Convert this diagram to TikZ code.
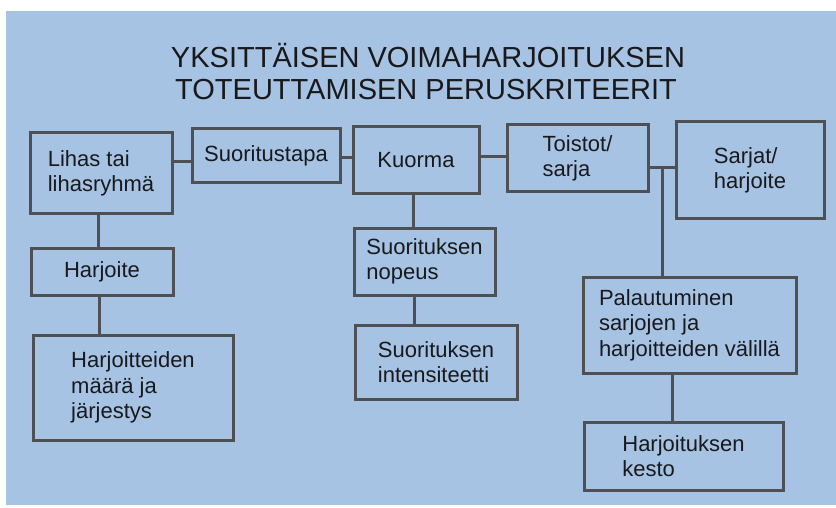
\documentclass[tikz,border=0pt]{standalone}
\usepackage{fontspec}
\setmainfont{Liberation Sans}
\definecolor{bgblue}{RGB}{166,195,228}
\definecolor{linegray}{RGB}{78,80,84}
\definecolor{inkc}{RGB}{25,25,28}
\begin{document}
\begin{tikzpicture}[x=1pt,y=-1pt,
  box/.style={draw=linegray, line width=3pt, rectangle, align=left, inner sep=0pt,
    text=inkc, font=\fontsize{22}{25.5}\selectfont},
  conn/.style={draw=linegray, line width=3pt},
  titlefont/.style={text=inkc, font=\fontsize{29}{32}\selectfont, inner sep=0pt}]
\useasboundingbox (0,0) rectangle (836,508);
\fill[white] (0,0) rectangle (836,508);
\fill[bgblue] (6,11) rectangle (836,505);

\node[titlefont, anchor=base] (t1) at (428,68) {YKSITTÄISEN VOIMAHARJOITUKSEN};
\node[titlefont, anchor=base] (t2) at (426,100) {TOTEUTTAMISEN PERUSKRITEERIT};

\node[box, minimum width=142, minimum height=81] (lihas) at (101,173.5) {Lihas tai\\lihasryhmä};
\node[box, minimum width=148, minimum height=54] (suor) at (266,156) {Suoritustapa};
\node[box, minimum width=126, minimum height=67] (kuorma) at (416,160.5) {Kuorma};
\node[box, minimum width=141, minimum height=67] (toistot) at (577.5,158.5) {Toistot/\\sarja};
\node[box, minimum width=148, minimum height=97] (sarjat) at (750,170.5) {Sarjat/\\harjoite};
\node[box, minimum width=142, minimum height=47] (harj) at (102,271.5) {Harjoite};
\node[box, minimum width=200, minimum height=105] (maara) at (133,387.5) {Harjoitteiden\\määrä ja\\järjestys};
\node[box, minimum width=141, minimum height=67] (nopeus) at (424.5,261.5) {Suorituksen\\nopeus};
\node[box, minimum width=162, minimum height=74] (intens) at (436,362) {Suorituksen\\intensiteetti};
\node[box, minimum width=213, minimum height=96] (palaut) at (689.5,325) {Palautuminen\\sarjojen ja\\harjoitteiden välillä};
\node[box, minimum width=199, minimum height=68] (kesto) at (683.5,456) {Harjoituksen\\kesto};

\coordinate (jn) at (662,168);

\draw[conn] (lihas.east |- 0,162) -- (suor.west |- 0,162);
\draw[conn] (suor.east |- 0,158) -- (kuorma.west |- 0,158);
\draw[conn] (kuorma.east |- 0,157) -- (toistot.west |- 0,157);
\draw[conn] (toistot.east |- jn) -- (sarjat.west |- jn);
\draw[conn] (jn) -- (palaut.north -| jn);
\draw[conn] (lihas.south -| 98,0) -- (harj.north -| 98,0);
\draw[conn] (harj.south -| 99,0) -- (maara.north -| 99,0);
\draw[conn] (kuorma.south -| 413,0) -- (nopeus.north -| 413,0);
\draw[conn] (nopeus.south -| 414,0) -- (intens.north -| 414,0);
\draw[conn] (palaut.south -| 672,0) -- (kesto.north -| 672,0);
\end{tikzpicture}
\end{document}
